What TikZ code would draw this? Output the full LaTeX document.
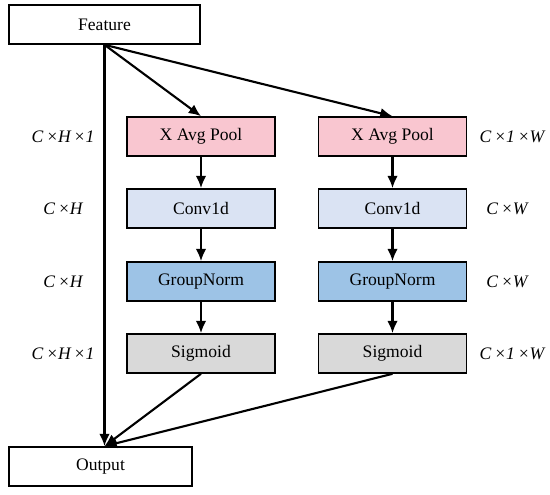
\documentclass[tikz,border=0pt]{standalone}
\usepackage{fontspec}
\setmainfont{Liberation Serif}
\usetikzlibrary{arrows.meta}
\definecolor{poolfill}{HTML}{F9C6D0}
\definecolor{convfill}{HTML}{DAE3F3}
\definecolor{normfill}{HTML}{9DC3E6}
\definecolor{sigfill}{HTML}{D9D9D9}

\tikzset{
  box/.style={draw, line width=0.9pt, inner sep=0pt, minimum height=0.78cm,
    font=\fontsize{10}{12}\selectfont},
  opbox/.style={box, minimum width=2.96cm},
  dimlabel/.style={font=\fontsize{10}{12}\selectfont\itshape},
  arr/.style={line width=1.2pt, -{Latex[length=7pt,width=6pt]}}
}

\begin{document}
\begin{tikzpicture}[x=0.02cm, y=-0.02cm]
  \useasboundingbox (0,0) rectangle (550,494);

  \node[box, minimum width=3.82cm] (feat) at (104.5,24.5) {Feature};
  \node[box, minimum width=3.66cm] (out) at (100.5,466.5) {Output};

  % H branch
  \node[opbox, fill=poolfill] (poolH) at (201,136.5) {X Avg  Pool};
  \node[opbox, fill=convfill] (convH) at (201,208.5) {Conv1d};
  \node[opbox, fill=normfill] (normH) at (201,281.5) {GroupNorm};
  \node[opbox, fill=sigfill]  (sigH)  at (201,353.5) {Sigmoid};

  % W branch
  \node[opbox, fill=poolfill] (poolW) at (392.5,136.5) {X Avg  Pool};
  \node[opbox, fill=convfill] (convW) at (392.5,208.5) {Conv1d};
  \node[opbox, fill=normfill] (normW) at (392.5,281.5) {GroupNorm};
  \node[opbox, fill=sigfill]  (sigW)  at (392.5,353.5) {Sigmoid};

  % shapes
  \node[dimlabel] (dimH1) at (63,136.5) {C\,×H\,×1};
  \node[dimlabel] (dimH2) at (63,208.5) {C\,×H};
  \node[dimlabel] (dimH3) at (63,281.5) {C\,×H};
  \node[dimlabel] (dimH4) at (63,353.5) {C\,×H\,×1};
  \node[dimlabel] (dimW1) at (512,136.5) {C\,×1\,×W};
  \node[dimlabel] (dimW2) at (507,208.5) {C\,×W};
  \node[dimlabel] (dimW3) at (507,281.5) {C\,×W};
  \node[dimlabel] (dimW4) at (512,353.5) {C\,×1\,×W};

  \coordinate (merge) at (feat.south |- out.north);

  \draw[arr] (feat.south) -- (merge);
  \draw[arr] (feat.south) -- (poolH.north);
  \draw[arr] (feat.south) -- (poolW.north);
  \draw[arr] (poolH) -- (convH);
  \draw[arr] (convH) -- (normH);
  \draw[arr] (normH) -- (sigH);
  \draw[arr] (poolW) -- (convW);
  \draw[arr] (convW) -- (normW);
  \draw[arr] (normW) -- (sigW);
  \draw[arr] (sigH.south) -- (merge);
  \draw[arr] (sigW.south) -- (merge);
\end{tikzpicture}
\end{document}
